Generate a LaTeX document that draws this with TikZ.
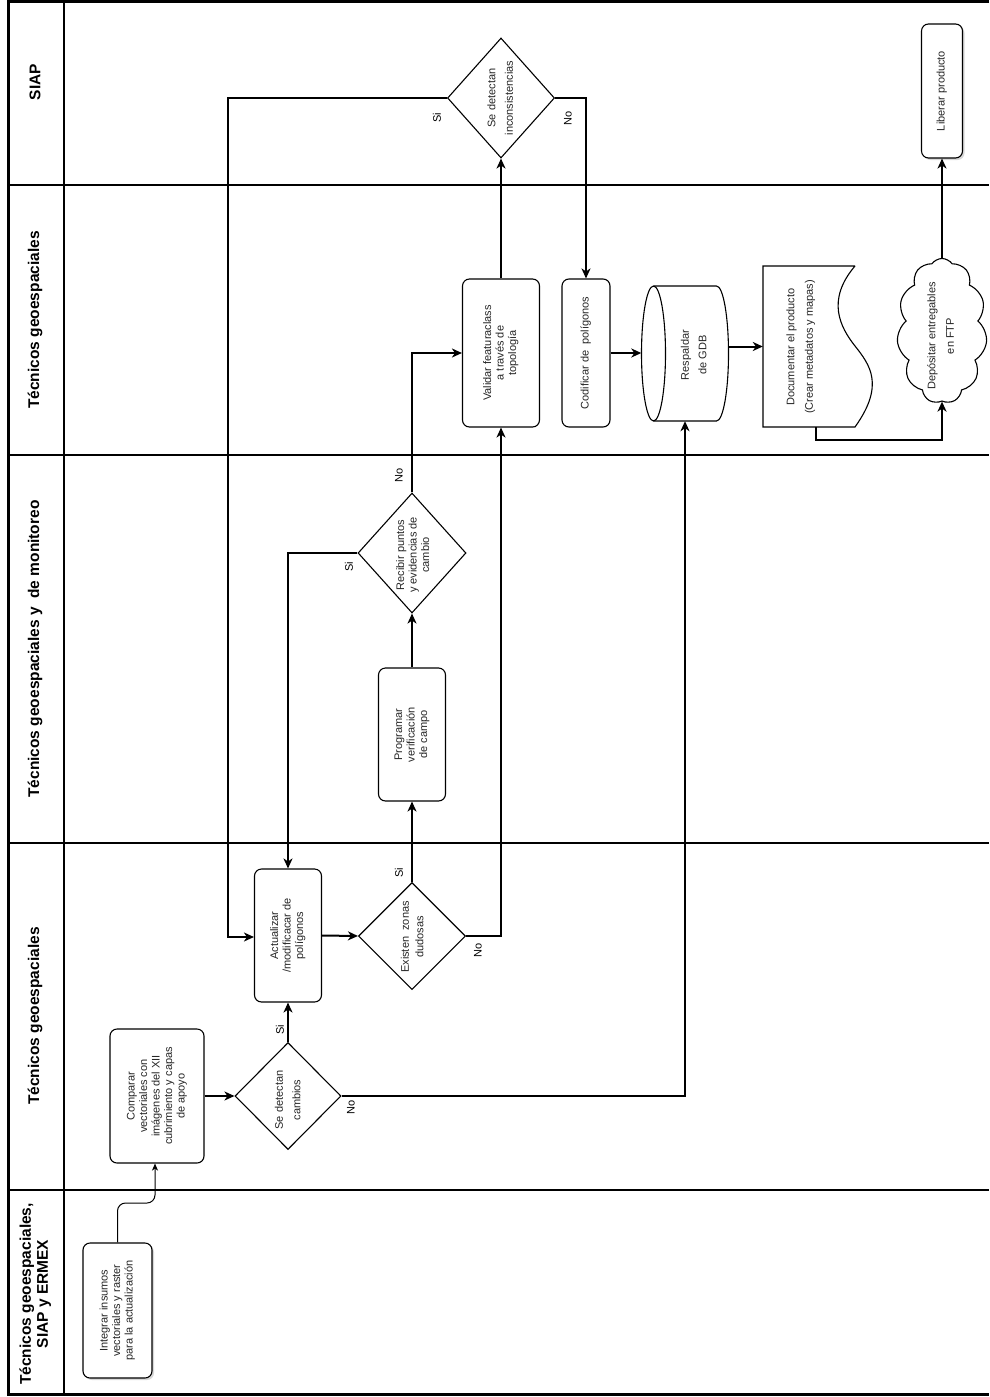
\documentclass[tikz,border=0pt]{standalone}
\usepackage{fontspec}
\setmainfont{Liberation Sans}
\usetikzlibrary{shapes.geometric,shapes.symbols,arrows.meta,shadows,calc}
\newcommand{\vtext}[1]{\rotatebox{90}{\begin{tabular}{@{}c@{}}#1\end{tabular}}}
\newcommand{\boxfont}{\fontsize{11}{12.5}\selectfont}
\newcommand{\hdrfont}{\fontsize{15.5}{17}\selectfont\bfseries}
\begin{document}
\begin{tikzpicture}[x=1pt,y=-1pt,
 box/.style={draw, fill=white, rounded corners=7pt, line width=1.1pt, inner sep=0pt, font=\boxfont, text=black!85},
 dia/.style={draw, diamond, line width=1.1pt, inner sep=0pt},
 txt/.style={inner sep=0pt, font=\boxfont, text=black!85},
 lbl/.style={inner sep=0pt, font=\boxfont},
 hdr/.style={inner sep=0pt, font=\hdrfont},
 conn/.style={line width=2pt, -{Stealth[length=10pt,width=9pt,inset=3pt]}},
 thinconn/.style={line width=1pt, rounded corners=8pt, -{Stealth[length=7pt,width=6pt,inset=2pt]}},
 lane/.style={line width=1.6pt},
 shad/.style={drop shadow={shadow xshift=2pt,shadow yshift=-2pt,opacity=0.3}}
]
\useasboundingbox (0,0) rectangle (989,1397);
\fill[white] (0,0) rectangle (989,1397);

% swimlanes
\draw[lane] (8,185) -- (989,185);
\draw[lane] (8,455) -- (989,455);
\draw[lane] (8,843) -- (989,843);
\draw[lane] (8,1190) -- (989,1190);
\draw[lane] (64,2) -- (64,1394);
\draw[line width=3pt] (989,1.5) -- (8,1.5) -- (8,1394.5) -- (989,1394.5);

% headers
\node[hdr] (h1) at (35,82) {\rotatebox{90}{SIAP}};
\node[hdr] (h2) at (35,320) {\rotatebox{90}{Técnicos geoespaciales}};
\node[hdr] (h3) at (35,649) {\rotatebox{90}{Técnicos geoespaciales y\ \ de monitoreo}};
\node[hdr] (h4) at (35,1016) {\rotatebox{90}{Técnicos geoespaciales}};
\node[hdr] (h5) at (36,1294) {\vtext{Técnicos geoespaciales,\\SIAP y ERMEX}};

% SIAP lane
\node[dia, minimum width=107pt, minimum height=120pt] (inc) at (501,98) {};
\node[txt] (inct) at (501.5,98) {\vtext{Se detectan\\[5pt]inconsistencias}};
\node[box, shad, minimum width=41pt, minimum height=134pt] (lib) at (942,91) {\vtext{Liberar producto}};

% Tecnicos geoespaciales (upper)
\node[box, minimum width=77pt, minimum height=148pt] (val) at (501,353) {\vtext{Validar featuraclass\\a través de\\topología}};
\node[box, minimum width=48pt, minimum height=148pt] (cod) at (586,353) {\vtext{Codificar de\ \ polígonos}};

% cylinder
\node[inner sep=0pt, minimum width=87pt, minimum height=135pt] (resp) at (685,353.5) {};
\draw[line width=1.1pt] (653.5,353.5) ellipse [x radius=12, y radius=67.5];
\draw[line width=1.1pt] (653.5,286) -- (716.5,286) arc[start angle=-90, end angle=90, x radius=12, y radius=67.5] -- (653.5,421);
\node[txt] (respt) at (695,355) {\vtext{Respaldar\\[5pt]de GDB}};

% document
\node[inner sep=0pt, minimum width=106pt, minimum height=161pt] (doc) at (816,346.5) {};
\draw[line width=1.1pt] (855,266) -- (763,266) -- (763,427) -- (855,427)
  .. controls (885,385) and (870,365) .. (855,346)
  .. controls (840,327) and (826,300) .. (855,266);
\node[txt] (doct) at (801,347) {\vtext{Documentar el producto\\[6pt](Crear metadatos y mapas)}};

% cloud
\node[cloud, draw, line width=1.1pt, cloud puffs=11, cloud puff arc=110, aspect=0.62,
      minimum width=90pt, minimum height=145pt, inner sep=0pt] (ftp) at (942,331) {};
\node[txt] (ftpt) at (942,336) {\vtext{Depósitar entregables\\[6pt]en FTP}};

% Tecnicos geoespaciales y de monitoreo
\node[dia, minimum width=108pt, minimum height=120pt] (rec) at (412,553) {};
\node[txt] (rect) at (414,555) {\vtext{Recibir puntos\\y evidencias de\\cambio}};
\node[box, minimum width=67pt, minimum height=133pt] (prog) at (412,734.5) {\vtext{Programar\\verificación\\de campo}};

% Tecnicos geoespaciales (lower)
\node[box, minimum width=67pt, minimum height=133pt] (act) at (288,935.5) {\vtext{Actualizar\\/modificacar de\\polígonos}};
\node[dia, minimum width=107pt, minimum height=107pt] (exi) at (412,936) {};
\node[txt] (exit) at (413.5,937) {\vtext{Existen\ \ zonas\\[2pt]dudosas}};
\node[box, minimum width=94pt, minimum height=134pt] (comp) at (157,1096) {\vtext{Comparar\\vectoriales con\\imágenes del XII\\cubrimiento y capas\\de apoyo}};
\node[dia, minimum width=106pt, minimum height=107pt] (cam) at (288,1096) {};
\node[txt] (camt) at (289,1100) {\vtext{Se detectan\\[5pt]cambios}};

% first lane
\node[box, shad, minimum width=69pt, minimum height=135pt] (integ) at (117.5,1310.5) {\vtext{Integrar insumos\\vectoriales y raster\\para la actualización}};

% labels
\node[lbl] (l1) at (437,118) {\rotatebox{90}{Si}};
\node[lbl] (l2) at (568,118) {\rotatebox{90}{No}};
\node[lbl] (l3) at (399,475) {\rotatebox{90}{No}};
\node[lbl] (l4) at (349,567) {\rotatebox{90}{Si}};
\node[lbl] (l5) at (399,873) {\rotatebox{90}{Si}};
\node[lbl] (l6) at (478,950) {\rotatebox{90}{No}};
\node[lbl] (l7) at (280,1030) {\rotatebox{90}{Si}};
\node[lbl] (l8) at (351,1107) {\rotatebox{90}{No}};

% connectors
\coordinate (ci) at (155,1203);
\draw[thinconn] (integ.north) |- (ci) -- (ci |- comp.south);
\draw[conn] (comp.east) -- (cam.west);
\draw[conn] (cam.north) -- (cam.north |- act.south);
\draw[conn] (cam.east) -| (resp.south);
\draw[conn] (act.east) -- (exi.west);
\draw[conn] (exi.north) -- (exi.north |- prog.south);
\draw[conn] (exi.east) -| (val.south);
\draw[conn] (prog.north) -- (rec.south);
\draw[conn] (rec.west) -| (act.north);
\draw[conn] (rec.north) |- (val.west);
\draw[conn] (val.north) -- (val.north |- inc.south);
\coordinate (cs) at (228,937);
\draw[conn] (inc.west) -| (cs) -- (cs -| act.west);
\draw[conn] (inc.east) -| (cod.north);
\draw[conn] (cod.east) -- (cod.east -| resp.west);
\draw[conn] (resp.east |- doc.west) -- (doc.west);
\draw[conn] (doc.south) -- ++(0,13) -| (ftp.south);
\draw[conn] (ftp.north) -- (ftp.north |- lib.south);
\end{tikzpicture}
\end{document}
